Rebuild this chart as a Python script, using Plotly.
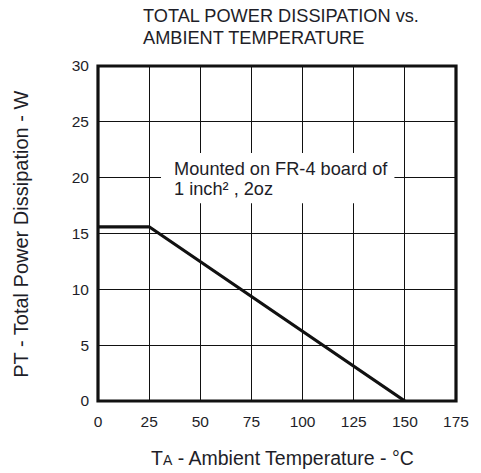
import plotly.graph_objects as go

# Data
temp_c = [0, 25, 150]
power_w = [15.6, 15.6, 0]
x_ticks = [0, 25, 50, 75, 100, 125, 150, 175]
y_ticks = [0, 5, 10, 15, 20, 25, 30]

title_lines = ["TOTAL POWER DISSIPATION vs.", "AMBIENT TEMPERATURE"]
note_lines = ["Mounted on FR-4 board of", "1 inch\u00b2 , 2oz"]
x_title = "T<span style='font-size:14px'>A</span> - Ambient Temperature - \u00b0C"
y_title = "PT - Total Power Dissipation - W"

FONT = "Liberation Sans, Arial, sans-serif"
TXT = "#1e1e28"

fig = go.Figure()
fig.add_trace(go.Scatter(x=temp_c, y=power_w, mode="lines",
                         line=dict(color="#111111", width=3.2),
                         hoverinfo="skip", showlegend=False))

fig.update_layout(
    width=481, height=473,
    margin=dict(l=98, r=13, t=66, b=72),
    paper_bgcolor="white", plot_bgcolor="white",
    font=dict(family=FONT, color=TXT),
    xaxis=dict(range=[0, 175], tickvals=x_ticks, ticktext=[str(v) for v in x_ticks],
               showgrid=True, gridcolor="#111111", gridwidth=1.4, zeroline=False,
               showline=False, ticks="", tickfont=dict(size=15.5, color=TXT),
               ticklabelstandoff=9, fixedrange=True),
    yaxis=dict(range=[0, 30], tickvals=y_ticks, ticktext=[str(v) for v in y_ticks],
               showgrid=True, gridcolor="#111111", gridwidth=1.4, zeroline=False,
               showline=False, ticks="", tickfont=dict(size=15.5, color=TXT),
               ticklabelstandoff=8, fixedrange=True),
)

# white box masking grid behind note
fig.add_shape(type="rect", xref="x", yref="y", x0=30.8, x1=144.9, y0=17.7, y1=22.2,
              fillcolor="white", line=dict(width=0), layer="between")
# plot border
fig.add_shape(type="rect", xref="paper", yref="paper", x0=0, x1=1, y0=0, y1=1,
              line=dict(color="#111111", width=3.2), layer="above")

# note text
fig.add_annotation(x=36.4, y=20.8, xref="x", yref="y", text=note_lines[0],
                   showarrow=False, xanchor="left", yanchor="middle",
                   font=dict(size=18.2, color=TXT, family=FONT))
fig.add_annotation(x=36.4, y=18.95, xref="x", yref="y", text=note_lines[1],
                   showarrow=False, xanchor="left", yanchor="middle",
                   font=dict(size=18.2, color=TXT, family=FONT))

# title
fig.add_annotation(x=0.119, y=1.149, xref="paper", yref="paper", text=title_lines[0],
                   showarrow=False, xanchor="left", yanchor="middle",
                   font=dict(size=18.2, color=TXT, family=FONT))
fig.add_annotation(x=0.119, y=1.083, xref="paper", yref="paper", text=title_lines[1],
                   showarrow=False, xanchor="left", yanchor="middle",
                   font=dict(size=18.2, color=TXT, family=FONT))

# axis titles
fig.add_annotation(x=0.515, y=-0.171, xref="paper", yref="paper", text=x_title,
                   showarrow=False, xanchor="center", yanchor="middle",
                   font=dict(size=19.5, color=TXT, family=FONT))
fig.add_annotation(x=-0.216, y=0.498, xref="paper", yref="paper", text=y_title,
                   showarrow=False, xanchor="center", yanchor="middle", textangle=-90,
                   font=dict(size=20, color=TXT, family=FONT))

fig.write_html("out.html", config={"displayModeBar": False})
